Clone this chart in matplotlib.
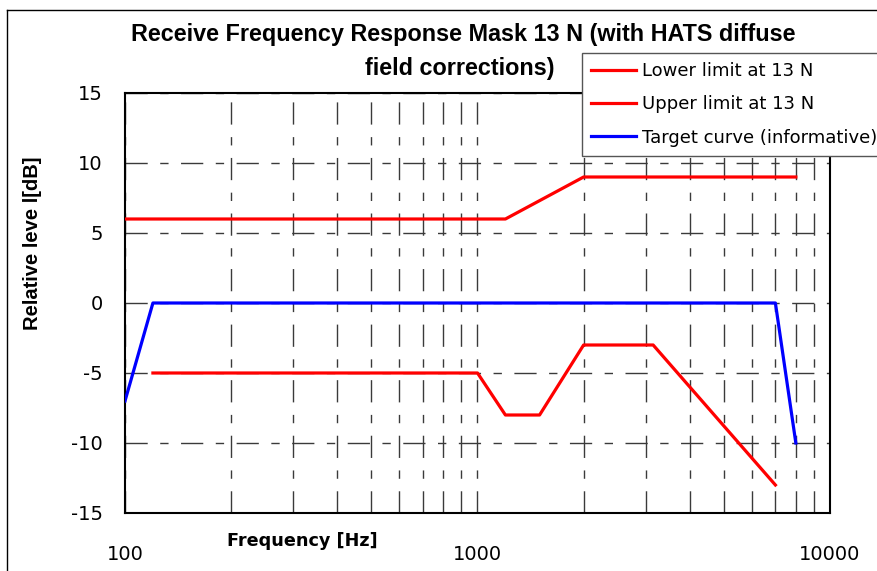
import matplotlib
matplotlib.use("Agg")
import matplotlib.pyplot as plt
from matplotlib.ticker import FixedLocator, NullFormatter, FixedFormatter
from matplotlib.lines import Line2D

# ---- data ----
upper_f = [100, 1200, 2000, 8000]
upper_db = [6, 6, 9, 9]
lower_f = [120, 1000, 1200, 1500, 2000, 3150, 7000]
lower_db = [-5, -5, -8, -8, -3, -3, -13]
target_f = [100, 120, 7000, 8000]
target_db = [-7, 0, 0, -10]

x_major = [100, 1000, 10000]
x_major_labels = ["100", "1000", "10000"]
x_minor = [200, 300, 400, 500, 600, 700, 800, 900,
           2000, 3000, 4000, 5000, 6000, 7000, 8000, 9000]
y_ticks = [-15, -10, -5, 0, 5, 10, 15]
y_tick_labels = ["-15", "-10", "-5", "0", "5", "10", "15"]

title_line1 = "Receive Frequency Response Mask 13 N (with HATS diffuse"
title_line2 = "field corrections)"
x_label = "Frequency [Hz]"
y_label = "Relative leve l[dB]"
legend_labels = ["Lower limit at 13 N", "Upper limit at 13 N", "Target curve (informative)"]

W, H = 878, 571
fig = plt.figure(figsize=(W / 100, H / 100), dpi=100)
ax = fig.add_axes([125 / W, 1 - 513 / H, (830 - 125) / W, (513 - 93) / H])

ax.set_xscale("log")
ax.set_xlim(100, 10000)
ax.set_ylim(-15, 15)

dash = (16, 9, 6, 9)
ax.xaxis.set_major_locator(FixedLocator(x_major))
ax.xaxis.set_major_formatter(FixedFormatter(x_major_labels))
ax.xaxis.set_minor_locator(FixedLocator(x_minor))
ax.xaxis.set_minor_formatter(NullFormatter())
ax.set_yticks(y_ticks)
ax.set_yticklabels(y_tick_labels)

ax.grid(True, which="both", axis="x", color="#3a3a3a", linewidth=1.0, dashes=dash)
ax.grid(True, which="major", axis="y", color="#3a3a3a", linewidth=1.0, dashes=dash)

ax.tick_params(axis="both", which="both", length=0)
ax.tick_params(axis="y", labelsize=14, pad=16)
ax.tick_params(axis="x", labelsize=14, pad=23)
for lab in ax.get_xticklabels() + ax.get_yticklabels():
    lab.set_fontfamily("DejaVu Sans")

for sp in ax.spines.values():
    sp.set_linewidth(1.5)
    sp.set_color("black")

ax.plot(upper_f, upper_db, color="#ff0000", linewidth=2.3, zorder=3)
ax.plot(lower_f, lower_db, color="#ff0000", linewidth=2.3, zorder=3)
ax.plot(target_f, target_db, color="#0000ff", linewidth=2.3, zorder=3)

# titles and axis labels
fig.text(463 / W, 1 - 35 / H, title_line1, ha="center", va="center",
         fontsize=16.8, fontweight="bold", family=["Liberation Sans", "DejaVu Sans"])
fig.text(460 / W, 1 - 68 / H, title_line2, ha="center", va="center",
         fontsize=16.8, fontweight="bold", family=["Liberation Sans", "DejaVu Sans"])
fig.text(302 / W, 1 - 541 / H, x_label, ha="center", va="center",
         fontsize=12.7, fontweight="bold", family=["DejaVu Sans"])
fig.text(33 / W, 1 - 243 / H, y_label, ha="center", va="center", rotation=90,
         fontsize=14.5, fontweight="bold", family=["Liberation Sans", "DejaVu Sans"])

# legend
handles = [Line2D([], [], color="#ff0000", linewidth=2.3),
           Line2D([], [], color="#ff0000", linewidth=2.3),
           Line2D([], [], color="#0000ff", linewidth=2.3)]
leg = fig.legend(handles, legend_labels, loc="upper left",
                 bbox_to_anchor=(582 / W, 1 - 53 / H), borderaxespad=0,
                 fancybox=False, framealpha=1, edgecolor="#555555",
                 prop={"family": "DejaVu Sans", "size": 13},
                 handlelength=2.5, handletextpad=0.3, labelspacing=0.85,
                 borderpad=0.5)
leg.get_frame().set_linewidth(1.0)

# outer frame
fig.add_artist(Line2D([7 / W, 7 / W], [0, 1 - 10 / H], transform=fig.transFigure,
                      color="black", linewidth=1.0))
fig.add_artist(Line2D([7 / W, 1], [1 - 10 / H, 1 - 10 / H], transform=fig.transFigure,
                      color="black", linewidth=1.0))

fig.savefig("out.png", dpi=100)
